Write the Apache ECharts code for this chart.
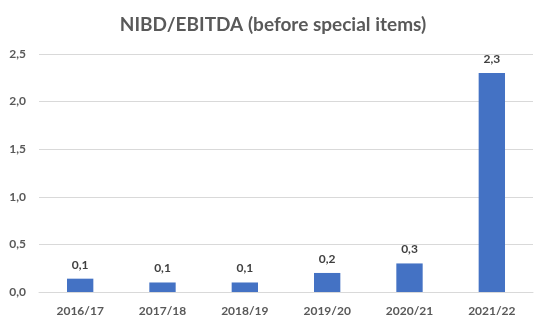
<!DOCTYPE html>
<html><head><meta charset="utf-8">
<script src="https://cdn.jsdelivr.net/npm/echarts@6/dist/echarts.min.js"></script>
<style>html,body{margin:0;padding:0;background:#fff}#c{width:546px;height:326px}</style>
</head><body><div id="c"></div>
<script>
const categories = ['2016/17','2017/18','2018/19','2019/20','2020/21','2021/22'];
const values = [0.14, 0.10, 0.10, 0.20, 0.30, 2.30];
const yTicks = [0, 0.5, 1, 1.5, 2, 2.5];
const titleText = 'NIBD/EBITDA (before special items)';
const fmt = v => v.toFixed(1).replace('.', ',');
const chart = echarts.init(document.getElementById('c'));
chart.setOption({
  animation: false,
  title: { text: titleText, left: 'center', top: 10,
    textStyle: { fontFamily: 'Lato', fontWeight: 'bold', fontSize: 19, color: '#595959' } },
  grid: { left: 39, right: 13, top: 54, bottom: 34 },
  xAxis: { type: 'category', data: categories,
    axisLine: { lineStyle: { color: '#d9d9d9' } }, axisTick: { show: false },
    axisLabel: { fontFamily: 'Lato', fontWeight: 'bold', fontSize: 12, color: '#595959', margin: 13 } },
  yAxis: { type: 'value', min: 0, max: yTicks[yTicks.length-1], interval: 0.5,
    axisLine: { show: false }, axisTick: { show: false },
    splitLine: { lineStyle: { color: '#d9d9d9' } },
    axisLabel: { fontFamily: 'Lato', fontWeight: 'bold', fontSize: 12, color: '#595959', margin: 13, formatter: fmt } },
  series: [{ type: 'bar', data: values, barWidth: '32%',
    itemStyle: { color: '#4472C4' },
    label: { show: true, position: 'top', distance: 8, formatter: p => fmt(p.value),
      fontFamily: 'Lato', fontWeight: 'bold', fontSize: 12, color: '#404040' } }]
});
</script></body></html>
